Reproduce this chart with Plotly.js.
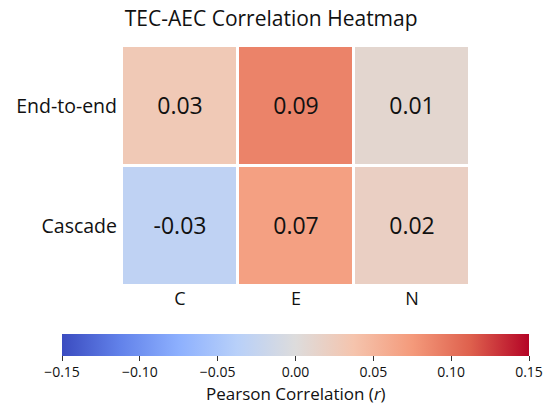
<!DOCTYPE html>
<html><head><meta charset="utf-8">
<script src="https://cdn.plot.ly/plotly-3.0.1.min.js"></script>
<style>html,body{margin:0;padding:0;background:#fff}#chart{width:545px;height:405px}</style>
</head><body><div id="chart"></div>
<script>
const columns = ['C', 'E', 'N'];
const rows = ['End-to-end', 'Cascade'];
const endToEnd = [0.03, 0.09, 0.01];
const cascade = [-0.03, 0.07, 0.02];
const colorTicks = [-0.15, -0.10, -0.05, 0.00, 0.05, 0.10, 0.15];

const z = [endToEnd, cascade];
const text = z.map(r => r.map(v => v.toFixed(2)));
const coolwarm = [
  [0.0, '#3b4cc0'], [0.125, '#6282ea'], [0.25, '#8db0fe'], [0.375, '#b8d0f9'],
  [0.5, '#dddcdc'], [0.625, '#f5c4ad'], [0.75, '#f49a7b'], [0.875, '#de604d'], [1.0, '#b40426']
];
const FONT = '"Open Sans", sans-serif';
Plotly.newPlot('chart', [{
  type: 'heatmap', x: columns, y: rows, z: z, text: text, texttemplate: '%{text}',
  textfont: {size: 23, color: '#111', family: FONT},
  colorscale: coolwarm, zmin: -0.15, zmax: 0.15, xgap: 3, ygap: 3, hoverinfo: 'skip',
  colorbar: {
    orientation: 'h', lenmode: 'pixels', len: 467, thickness: 22,
    xref: 'paper', x: 0.4986, xanchor: 'center',
    yref: 'container', y: 0.1753, yanchor: 'top', ypad: 0, xpad: 0,
    outlinewidth: 0, ticks: 'outside', ticklen: 5, tickcolor: '#333',
    tickvals: colorTicks, tickformat: '.2f',
    tickfont: {size: 14, color: '#111', family: FONT}
  }
}], {
  width: 545, height: 405,
  margin: {l: 122, r: 75, t: 46, b: 119},
  paper_bgcolor: '#fff', plot_bgcolor: '#fff',
  font: {family: FONT, color: '#111'},
  title: {text: 'TEC-AEC Correlation Heatmap', x: 0.4976, xanchor: 'center', y: 0.955, yanchor: 'middle', font: {size: 21, color: '#111', family: FONT}},
  annotations: [{text: 'Pearson Correlation (<i>r</i>)', xref: 'paper', x: 0.4986, xanchor: 'center',
    yref: 'paper', y: -0.3958, yanchor: 'top', showarrow: false, borderpad: 0,
    font: {size: 17, color: '#111', family: FONT}}],
  xaxis: {showgrid: false, zeroline: false, showline: false, ticks: '', tickfont: {size: 18, color: '#111'}, ticklabelstandoff: 0},
  yaxis: {showgrid: false, zeroline: false, showline: false, ticks: '', autorange: 'reversed', tickfont: {size: 19.5, color: '#111'}, ticklabelstandoff: 4}
}, {staticPlot: true, displayModeBar: false});
</script></body></html>
